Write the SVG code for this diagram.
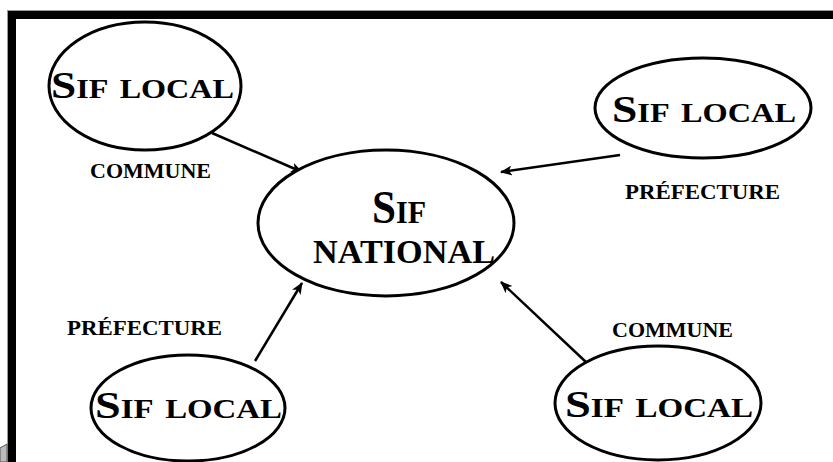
<svg xmlns="http://www.w3.org/2000/svg" width="833" height="462" viewBox="0 0 833 462">
<style>
.node ellipse{fill:#fff;stroke:#000;stroke-width:3}
.t{font-family:"Liberation Serif","Times New Roman",serif;font-weight:bold;font-variant:small-caps;fill:#000}
.big{font-size:38px}
.ctr{font-size:46px}
.ctr2{font-size:33px;font-variant:normal}
.lbl{font-size:29px}
.conn line{stroke:#000;stroke-width:2.5;marker-end:url(#ah)}
</style>
<defs>
<marker id="ah" viewBox="0 0 12 10" refX="11" refY="5" markerWidth="13" markerHeight="10" markerUnits="userSpaceOnUse" orient="auto">
<path d="M0,0 L12,5 L0,10 L3,5 Z" fill="#000"/>
</marker>
</defs>
<rect width="833" height="462" fill="#fff"/>
<g id="frame">
<rect x="7" y="10" width="826" height="1" fill="#999"/>
<rect x="7" y="10" width="1" height="452" fill="#999"/>
<rect x="8" y="11" width="825" height="8" fill="#000"/>
<rect x="8" y="11" width="8" height="451" fill="#000"/>
<path d="M0,448 L7,444 L7,462 L0,462 Z" fill="#bbb" stroke="#555" stroke-width="1"/>
</g>
<g id="connectors" class="conn">
<line x1="212" y1="133" x2="302" y2="172"/>
<line x1="620" y1="155" x2="501" y2="172"/>
<line x1="255" y1="361" x2="302" y2="283"/>
<line x1="587" y1="363" x2="501" y2="282"/>
</g>
<g id="national" class="node">
<ellipse cx="386" cy="223" rx="128" ry="73"/>
<text class="t ctr" x="372" y="223" textLength="54" lengthAdjust="spacingAndGlyphs">Sif</text>
<text class="t ctr2" x="313" y="263" textLength="182" lengthAdjust="spacingAndGlyphs">NATIONAL</text>
</g>
<g id="local-tl" class="node">
<ellipse cx="145" cy="86" rx="96" ry="64"/>
<text class="t big" x="51" y="98" textLength="183" lengthAdjust="spacingAndGlyphs">Sif local</text>
</g>
<g id="local-tr" class="node">
<ellipse cx="703" cy="108" rx="108" ry="50"/>
<text class="t big" x="612" y="122" textLength="184" lengthAdjust="spacingAndGlyphs">Sif local</text>
</g>
<g id="local-bl" class="node">
<ellipse cx="188" cy="408" rx="97" ry="53"/>
<text class="t big" x="95" y="418" textLength="187" lengthAdjust="spacingAndGlyphs">Sif local</text>
</g>
<g id="local-br" class="node">
<ellipse cx="658" cy="403" rx="103" ry="57"/>
<text class="t big" x="565" y="417" textLength="188" lengthAdjust="spacingAndGlyphs">Sif local</text>
</g>
<g id="labels">
<text class="t lbl" x="90" y="178" textLength="121" lengthAdjust="spacingAndGlyphs">commune</text>
<text class="t lbl" x="625" y="199" textLength="155" lengthAdjust="spacingAndGlyphs">préfecture</text>
<text class="t lbl" x="67" y="335" textLength="155" lengthAdjust="spacingAndGlyphs">préfecture</text>
<text class="t lbl" x="612" y="337" textLength="121" lengthAdjust="spacingAndGlyphs">commune</text>
</g>
</svg>
